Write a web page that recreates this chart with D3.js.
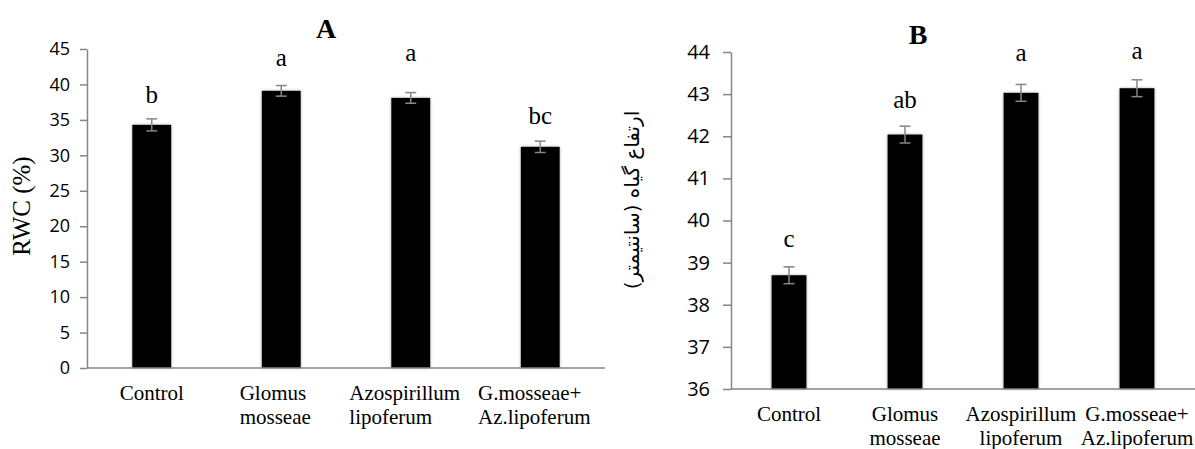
<!DOCTYPE html>
<html>
<head>
<meta charset="utf-8">
<script src="https://cdn.jsdelivr.net/npm/d3@7"></script>
<style>
  body { margin: 0; background: #fff; }
  svg { display: block; }
</style>
</head>
<body>
<div id="chart"></div>
<script>
// categories (line-wrapped as on the picture)
const categories = ["Control", "Glomus mosseae", "Azospirillum lipoferum", "G.mosseae+ Az.lipoferum"];
const labelLines = [["Control"], ["Glomus", "mosseae"], ["Azospirillum", "lipoferum"], ["G.mosseae+", "Az.lipoferum"]];

// panel A: RWC (%)
const rwc = [34.3, 39.1, 38.1, 31.2];
const rwcErr = [0.85, 0.75, 0.75, 0.8];
const rwcLetters = ["b", "a", "a", "bc"];
const rwcTicks = [0, 5, 10, 15, 20, 25, 30, 35, 40, 45];

// panel B: plant height (cm)
const height = [38.7, 42.04, 43.03, 43.14];
const heightErr = [0.2, 0.2, 0.2, 0.2];
const heightLetters = ["c", "ab", "a", "a"];
const heightTicks = [36, 37, 38, 39, 40, 41, 42, 43, 44];

const W = 1195, H = 449;
const svg = d3.select("#chart").append("svg").attr("width", W).attr("height", H);

const grey = "#868686";
const serif = "'Liberation Serif', 'Times New Roman', serif";

function panel(cfg) {
  const g = svg.append("g");

  const x = d3.scaleBand().domain(categories).range([cfg.x0, cfg.x1]).paddingInner(0.7).paddingOuter(0.35);
  const y = d3.scaleLinear().domain(cfg.domain).range([cfg.y0, cfg.y1]);

  // y axis
  const yAxis = g.append("g")
    .attr("transform", "translate(" + cfg.x0 + ",0)")
    .call(d3.axisLeft(y).tickValues(cfg.ticks).tickSize(cfg.tick).tickPadding(cfg.tickPad).tickSizeOuter(0));
  yAxis.select(".domain").attr("stroke", grey).attr("stroke-width", 1.5);
  yAxis.selectAll(".tick line").attr("stroke", grey).attr("stroke-width", 1.5);
  yAxis.selectAll(".tick text")
    .attr("fill", "#000")
    .style("font-family", "'Open Sans', sans-serif")
    .style("font-size", cfg.tickFont + "px");

  // bars
  g.selectAll(".bar").data(cfg.values).enter().append("rect")
    .attr("x", (d, i) => x(categories[i]))
    .attr("width", x.bandwidth())
    .attr("y", d => y(d))
    .attr("height", d => y(cfg.domain[0]) - y(d))
    .attr("fill", "#000")
    .style("filter", "drop-shadow(0px 0px 1.5px rgba(0,0,0,0.35))");

  // x axis line (over bars)
  g.append("line")
    .attr("x1", cfg.x0).attr("x2", cfg.x1)
    .attr("y1", y(cfg.domain[0])).attr("y2", y(cfg.domain[0]))
    .attr("stroke", grey).attr("stroke-width", 1.5);

  // error bars
  const eb = g.selectAll(".err").data(cfg.values).enter().append("g")
    .attr("transform", (d, i) => "translate(" + (x(categories[i]) + x.bandwidth() / 2) + ",0)");
  eb.append("line")
    .attr("y1", (d, i) => y(d + cfg.err[i])).attr("y2", (d, i) => y(d - cfg.err[i]))
    .attr("stroke", grey).attr("stroke-width", 1.5);
  [1, -1].forEach(s => {
    eb.append("line")
      .attr("x1", -5.5).attr("x2", 5.5)
      .attr("y1", (d, i) => y(d + s * cfg.err[i])).attr("y2", (d, i) => y(d + s * cfg.err[i]))
      .attr("stroke", grey).attr("stroke-width", 1.5);
  });

  // significance letters
  g.selectAll(".letter").data(cfg.values).enter().append("text")
    .attr("x", (d, i) => x(categories[i]) + x.bandwidth() / 2)
    .attr("y", (d, i) => y(d + cfg.err[i]) - cfg.letterGap[i])
    .attr("text-anchor", "middle")
    .attr("font-family", serif)
    .attr("font-size", 25)
    .text((d, i) => cfg.letters[i]);

  // category labels
  const base = y(cfg.domain[0]);
  const lab = g.selectAll(".cat").data(labelLines).enter().append("text")
    .attr("font-family", serif)
    .attr("font-size", cfg.labelFont);
  lab.each(function (lines, i) {
    const cx = x(categories[i]) + x.bandwidth() / 2;
    const t = d3.select(this);
    if (cfg.leftLabels && lines.length > 1) {
      const tmp = t.append("tspan").text(lines[d3.maxIndex(lines, l => l.length)]);
      const w = tmp.node().getComputedTextLength();
      tmp.remove();
      t.attr("text-anchor", "start");
      lines.forEach((l, k) => t.append("tspan").attr("x", cx - w / 2 - cfg.labelShift).attr("y", base + cfg.labelDy + k * 24).text(l));
    } else {
      t.attr("text-anchor", "middle");
      lines.forEach((l, k) => t.append("tspan").attr("x", cx).attr("y", base + cfg.labelDy + k * 24).text(l));
    }
  });

  // title
  g.append("text")
    .attr("x", cfg.titleX).attr("y", cfg.titleY)
    .attr("text-anchor", "middle")
    .attr("font-family", serif)
    .attr("font-weight", "bold")
    .attr("font-size", 28)
    .text(cfg.title);

  // y title
  g.append("text")
    .attr("transform", "translate(" + cfg.yTitleX + "," + cfg.yTitleY + ") rotate(-90)")
    .attr("text-anchor", "middle")
    .attr("direction", cfg.rtl ? "rtl" : null)
    .attr("font-family", cfg.yTitleFont)
    .attr("font-size", cfg.yTitleSize)
    .text(cfg.yTitle);
}

panel({
  x0: 87, x1: 605, y0: 368, y1: 49,
  domain: [0, 45], ticks: rwcTicks, tick: 7, tickPad: 10, tickFont: 18,
  values: rwc, err: rwcErr, letters: rwcLetters, letterGap: [16, 20, 32, 17],
  leftLabels: true, labelShift: 6, labelDy: 32, labelFont: 21,
  title: "A", titleX: 326, titleY: 38,
  yTitle: "RWC (%)", yTitleX: 30, yTitleY: 206, yTitleSize: 25,
  yTitleFont: serif
});

panel({
  x0: 731, x1: 1195, y0: 389, y1: 52,
  domain: [36, 44], ticks: heightTicks, tick: 8, tickPad: 13, tickFont: 20,
  values: height, err: heightErr, letters: heightLetters, letterGap: [20, 18, 23, 21],
  leftLabels: false, labelShift: 0, labelDy: 32, labelFont: 21,
  title: "B", titleX: 918, titleY: 44,
  yTitle: "ارتفاع گیاه (سانتیمتر)", yTitleX: 639, yTitleY: 200, yTitleSize: 20, rtl: true,
  yTitleFont: "'DejaVu Sans', 'Noto Sans', sans-serif"
});
</script>
</body>
</html>
